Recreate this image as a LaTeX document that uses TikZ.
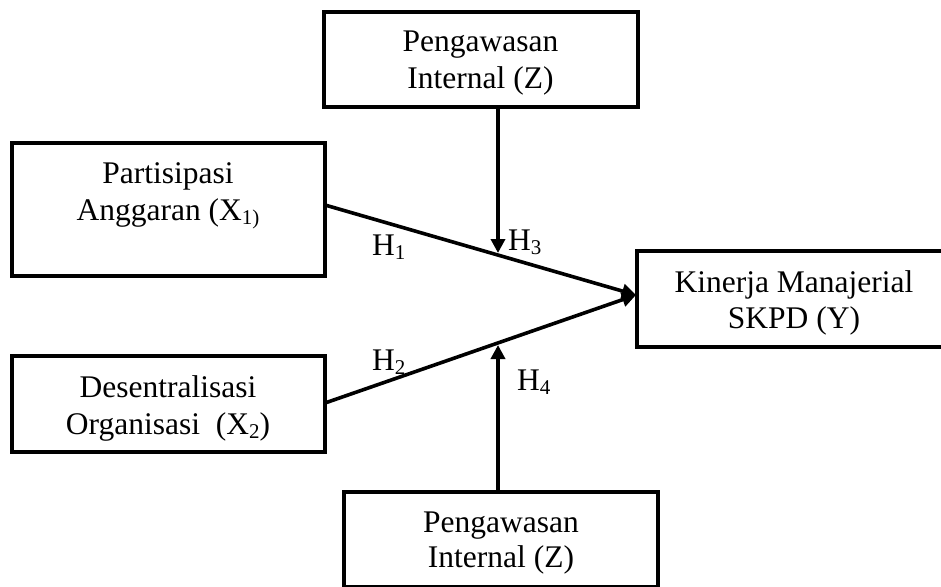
\documentclass[tikz,border=0pt]{standalone}
\usepackage{fontspec}
\setmainfont{Liberation Serif}
\usetikzlibrary{arrows.meta}
\newcommand\sbs[1]{\raisebox{-4.5pt}{\fontsize{21}{21}\selectfont #1}}
\tikzset{
  box/.style={draw, line width=4pt, inner sep=0pt, outer sep=0pt, minimum width=314pt},
  txt/.style={anchor=base, inner sep=0pt, font=\fontsize{31.5}{36}\selectfont},
  hlab/.style={anchor=base west, inner sep=0pt, font=\fontsize{31.5}{36}\selectfont},
  conn/.style={line width=3.6pt, -{Triangle[length=14pt,width=14pt]}},
  seg/.style={line width=3.6pt}
}
\begin{document}
\begin{tikzpicture}[x=1pt,y=-1pt]
\useasboundingbox (0,0) rectangle (941,586);
\clip (0,0) rectangle (941,586);
% boxes
\node[box, minimum height=95pt]  (z1) at (480.5,59.5) {};
\node[box, minimum height=133pt, minimum width=313pt] (x1) at (168.5,209.5) {};
\node[box, minimum height=96pt, minimum width=313pt]  (x2) at (168.5,404) {};
\node[box, minimum height=96pt]  (y)  at (794,299) {};
\node[box, minimum height=95pt]  (z2) at (501,539.5) {};
% texts
\node[txt] (z1a) at (480.5,52) {Pengawasan};
\node[txt] (z1b) at (480.5,88) {Internal (Z)};
\node[txt] (x1a) at (168,183) {Partisipasi};
\node[txt] (x1b) at (168,220) {Anggaran (X\sbs{1)}};
\node[txt] (x2a) at (168,397) {Desentralisasi};
\node[txt] (x2b) at (168,434) {Organisasi\ \ (X\sbs{2})};
\node[txt] (ya) at (794,292) {Kinerja Manajerial};
\node[txt] (yb) at (794,328) {SKPD (Y)};
\node[txt] (z2a) at (501,532) {Pengawasan};
\node[txt] (z2b) at (501,567) {Internal (Z)};
% hypothesis labels
\node[hlab] (h1l) at (372,255) {H\sbs{1}};
\node[hlab] (h2l) at (372,370) {H\sbs{2}};
\node[hlab] (h3l) at (508,250) {H\sbs{3}};
\node[hlab] (h4l) at (517,390) {H\sbs{4}};
% connectors
\coordinate (tip) at ([xshift=-1pt,yshift=4pt]y.west);
\draw[conn] ([yshift=4.5pt]x1.east) -- (tip);
\draw[conn] ([yshift=1pt]x2.east) -- (tip);
\coordinate (h3) at (498,253);
\coordinate (h4) at (498,345);
\draw[conn] (z1.south -| h3) -- (h3);
\draw[conn] (z2.north -| h4) -- (h4);
\end{tikzpicture}
\end{document}
